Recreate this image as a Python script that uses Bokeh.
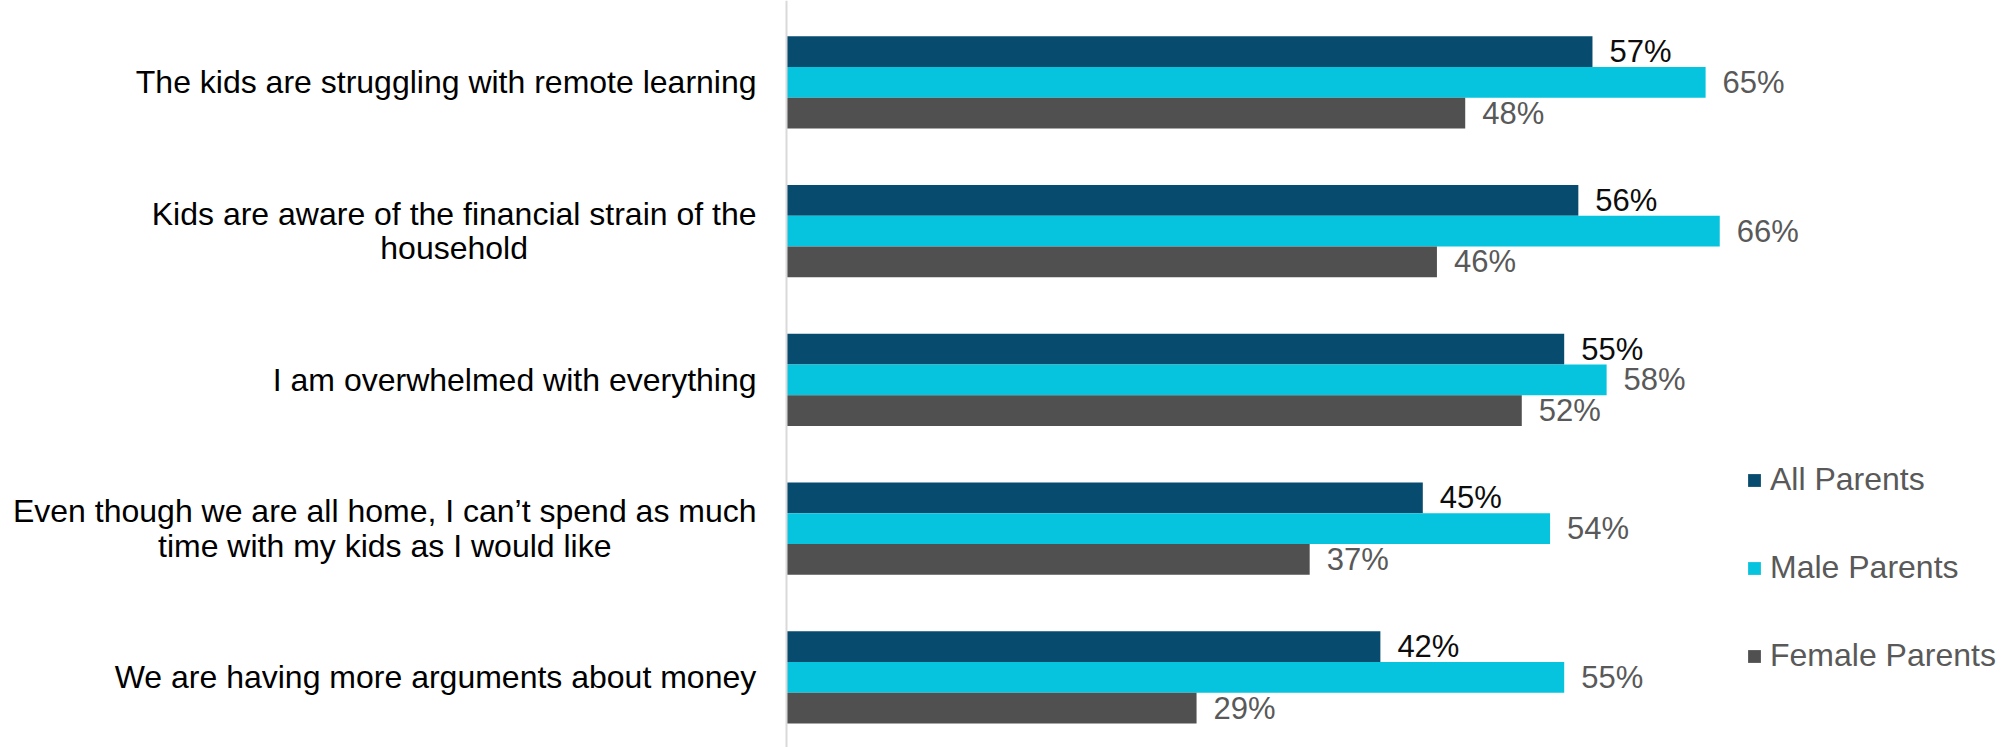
from bokeh.plotting import figure
from bokeh.models import (ColumnDataSource, Range1d, Legend, LegendItem, Span)
from bokeh.transform import dodge
from bokeh.core.properties import value
from bokeh.embed import file_html
from bokeh.resources import INLINE

categories = [
    "The kids are struggling with remote learning",
    "Kids are aware of the financial strain of the\nhousehold",
    "I am overwhelmed with everything",
    "Even though we are all home, I can\u2019t spend as much\ntime with my kids as I would like",
    "We are having more arguments about money",
]
all_parents = [57, 56, 55, 45, 42]
male_parents = [65, 66, 58, 54, 55]
female_parents = [48, 46, 52, 37, 29]
series_names = ["All Parents", "Male Parents", "Female Parents"]
colors = ["#074B6F", "#06C3DE", "#505050"]
label_colors = ["#0D0D0D", "#595959", "#595959"]

FONT = "Liberation Sans"
W, H = 2010, 747
AXIS_X = 786          # pixel position of the value axis
px_per_unit = 14.14
CAT_FONT = 32
CAT_GAP = 30
LINE_H = 34.6

# Arial / Liberation Sans advance widths (1/1000 em) for label layout
_AW = {" ": 278, ",": 278, "\u2019": 222, "a": 556, "b": 556, "c": 500, "d": 556,
       "e": 556, "f": 278, "g": 556, "h": 556, "i": 222, "j": 222, "k": 500,
       "l": 222, "m": 833, "n": 556, "o": 556, "p": 556, "q": 556, "r": 333,
       "s": 500, "t": 278, "u": 556, "v": 500, "w": 722, "x": 500, "y": 500,
       "z": 500, "T": 611, "K": 667, "I": 278, "E": 667, "W": 944}


def text_width(s, size):
    return sum(_AW.get(ch, 556) for ch in s) / 1000.0 * size


pos = list(range(len(categories)))
src = ColumnDataSource(dict(
    y=pos,
    all=all_parents, male=male_parents, female=female_parents,
    all_lbl=[f"{v}%" for v in all_parents],
    male_lbl=[f"{v}%" for v in male_parents],
    female_lbl=[f"{v}%" for v in female_parents],
))

# category label lines: block right-aligned at the axis gap, lines centred in the block
cy, ctext, cxoff, cyoff = [], [], [], []
for i, cat in enumerate(categories):
    lines = cat.split("\n")
    block_w = max(text_width(l, CAT_FONT) for l in lines)
    n = len(lines)
    for j, l in enumerate(lines):
        cy.append(i)
        ctext.append(l)
        cxoff.append(-(CAT_GAP + block_w / 2.0))
        cyoff.append((j - (n - 1) / 2.0) * LINE_H)
cat_src = ColumnDataSource(dict(y=cy, text=ctext, xo=cxoff, yo=cyoff))

x_start = -AXIS_X / px_per_unit
x_end = (W - AXIS_X) / px_per_unit

p = figure(width=W, height=H, output_backend="svg", toolbar_location=None,
           x_range=Range1d(x_start, x_end), y_range=Range1d(4.472, -0.551),
           min_border_left=0, min_border_right=0, min_border_top=0, min_border_bottom=0)
p.outline_line_color = None
p.xgrid.visible = False
p.ygrid.visible = False
p.xaxis.visible = False
p.yaxis.visible = False

p.add_layout(Span(location=0, dimension="height", line_color="#D9D9D9", line_width=2))

bh = 0.207
offsets = [-bh, 0.0, bh]
fields = ["all", "male", "female"]
renderers = []
for f, off, c, lc in zip(fields, offsets, colors, label_colors):
    r = p.hbar(y=dodge("y", off, range=p.y_range), right=f, left=0, height=bh,
               fill_color=c, line_color=None, source=src)
    renderers.append(r)
    p.text(x=f, y=dodge("y", off, range=p.y_range), text=f + "_lbl", source=src,
           x_offset=17, text_baseline="middle", text_align="left",
           text_font=value(FONT), text_font_size="31px", text_color=lc)

p.text(x=0, y="y", text="text", x_offset="xo", y_offset="yo", source=cat_src,
       text_align="center", text_baseline="middle",
       text_font=value(FONT), text_font_size=f"{CAT_FONT}px", text_color="#000000")

legend = Legend(items=[LegendItem(label=n, renderers=[r]) for n, r in zip(series_names, renderers)],
                location=(1746, 73), orientation="vertical",
                glyph_width=16, glyph_height=16, label_standoff=8,
                label_height=37, spacing=51, padding=0, margin=0,
                border_line_color=None, background_fill_alpha=0,
                label_text_font=FONT, label_text_font_size="32px",
                label_text_color="#595959")
p.add_layout(legend, "center")

open("out.html", "w").write(file_html(p, INLINE))
